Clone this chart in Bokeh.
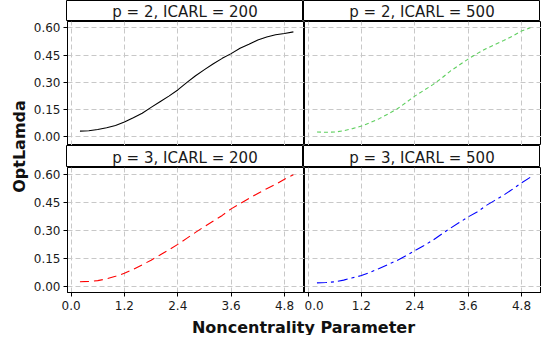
import math
from bokeh.plotting import figure
from bokeh.layouts import row, column
from bokeh.models import Range1d, FixedTicker, NumeralTickFormatter, Label, LinearAxis, Grid
from bokeh.embed import file_html
from bokeh.resources import INLINE

# ---------------- data ----------------
noncentrality = [0.2, 0.4, 0.6, 0.8, 1.0, 1.2, 1.4, 1.6, 1.8, 2.0, 2.2, 2.4, 2.6,
                 2.8, 3.0, 3.2, 3.4, 3.6, 3.8, 4.0, 4.2, 4.4, 4.6, 4.8, 5.0]
opt_p2_icarl200 = [0.031, 0.033, 0.040, 0.050, 0.062, 0.081, 0.105, 0.130, 0.162, 0.193,
                   0.224, 0.258, 0.298, 0.336, 0.370, 0.402, 0.432, 0.458, 0.488, 0.510,
                   0.533, 0.550, 0.562, 0.569, 0.578]
opt_p2_icarl500 = [0.026, 0.025, 0.026, 0.033, 0.045, 0.059, 0.078, 0.100, 0.125, 0.153,
                   0.188, 0.224, 0.255, 0.286, 0.322, 0.362, 0.395, 0.428, 0.458, 0.485,
                   0.508, 0.530, 0.555, 0.583, 0.600]
opt_p3_icarl200 = [0.027, 0.029, 0.033, 0.043, 0.056, 0.072, 0.093, 0.117, 0.142, 0.169,
                   0.197, 0.226, 0.258, 0.290, 0.321, 0.350, 0.380, 0.415, 0.442, 0.470,
                   0.497, 0.522, 0.545, 0.573, 0.596]
opt_p3_icarl500 = [0.021, 0.023, 0.027, 0.036, 0.048, 0.060, 0.078, 0.098, 0.119, 0.140,
                   0.165, 0.192, 0.219, 0.247, 0.280, 0.312, 0.342, 0.372, 0.398, 0.432,
                   0.460, 0.488, 0.520, 0.553, 0.583]
panel_titles = ["p = 2, ICARL = 200", "p = 2, ICARL = 500",
                "p = 3, ICARL = 200", "p = 3, ICARL = 500"]
x_ticks = [0.0, 1.2, 2.4, 3.6, 4.8]
y_ticks = [0.0, 0.15, 0.30, 0.45, 0.60]
x_title = "Noncentrality Parameter"
y_title = "OptLamda"

# ---------------- style / geometry ----------------
FONT = "DejaVu Sans"
AXW = 36      # left axis area
FW = 237      # frame width
HH1, FH1 = 21, 124
HH2, FH2 = 22, 125
XAX = 22
XL = 21
YLW = 30
GRID_COLOR = "#c8c8c8"


def base_fig(**kw):
    f = figure(toolbar_location=None, output_backend="svg", x_axis_type=None,
               y_axis_type=None, min_border=0, **kw)
    f.background_fill_color = "white"
    f.border_fill_color = "white"
    return f


def header(title, left, hh):
    h = base_fig(frame_width=FW, frame_height=hh, min_border_left=AXW if left else 0,
                 x_range=Range1d(0, 1), y_range=Range1d(0, 1))
    h.outline_line_color = "black"
    h.outline_line_width = 1
    h.add_layout(Label(x=0.5, y=0.45, text=title, text_align="center",
                       text_baseline="middle", text_font=FONT,
                       text_font_size="15px", text_color="#1a1a1a"))
    return h


def style_axis(ax):
    ax.major_tick_out = 4
    ax.major_tick_in = 0
    ax.minor_tick_out = 0
    ax.minor_tick_in = 0
    ax.axis_line_color = "black"
    ax.major_tick_line_color = "black"
    ax.major_label_text_font = FONT
    ax.major_label_text_font_size = "12px"
    ax.major_label_text_color = "#1a1a1a"


def panel(vals, color, dash, left, bottom, fh, ymin):
    p = base_fig(frame_width=FW, frame_height=fh,
                 x_range=Range1d(-0.08, 5.25), y_range=Range1d(ymin, 0.635),
                 min_border_left=AXW if left else 0,
                 min_border_bottom=XAX if bottom else 0)
    p.outline_line_color = "black"
    p.outline_line_width = 1
    p.add_layout(Grid(dimension=0, ticker=FixedTicker(ticks=x_ticks),
                      grid_line_color=GRID_COLOR, grid_line_dash="5 3"))
    p.add_layout(Grid(dimension=1, ticker=FixedTicker(ticks=y_ticks),
                      grid_line_color=GRID_COLOR, grid_line_dash="5 3"))
    if left:
        ya = LinearAxis(ticker=FixedTicker(ticks=y_ticks),
                        formatter=NumeralTickFormatter(format="0.00"))
        style_axis(ya)
        ya.major_label_standoff = 3
        p.add_layout(ya, "left")
    if bottom:
        xa = LinearAxis(ticker=FixedTicker(ticks=x_ticks),
                        formatter=NumeralTickFormatter(format="0.0"))
        style_axis(xa)
        xa.major_label_standoff = 4
        p.add_layout(xa, "below")
    p.line(x=noncentrality, y=vals, line_color=color, line_width=1.1, line_dash=dash)
    return p


p11 = panel(opt_p2_icarl200, "black", "solid", True, False, FH1, -0.048)
p12 = panel(opt_p2_icarl500, "#5fcf5f", "4 3", False, False, FH1, -0.048)
p21 = panel(opt_p3_icarl200, "#ff0000", "9 5", True, True, FH2, -0.03)
p22 = panel(opt_p3_icarl500, "#0000ff", "10 4 3 4", False, True, FH2, -0.03)

xl = base_fig(width=AXW + 2 * FW, height=XL,
              x_range=Range1d(0, AXW + 2 * FW), y_range=Range1d(0, XL))
xl.outline_line_color = None
xl.add_layout(Label(x=AXW + FW, y=XL / 2 - 2, text=x_title, text_align="center",
                    text_baseline="middle", text_font=FONT, text_font_size="16px",
                    text_font_style="bold", text_color="#111111"))

TOTAL_H = HH1 + FH1 + HH2 + FH2 + XAX + XL
yl = base_fig(width=YLW, height=TOTAL_H,
              x_range=Range1d(0, YLW), y_range=Range1d(0, TOTAL_H))
yl.outline_line_color = None
yl.add_layout(Label(x=19, y=TOTAL_H - (HH1 + FH1 + HH2 + FH2) / 2, text=y_title,
                    angle=math.pi / 2, text_align="center", text_baseline="middle",
                    text_font=FONT, text_font_size="16px", text_font_style="bold",
                    text_color="#111111"))

grid = column(
    row(header(panel_titles[0], True, HH1), header(panel_titles[1], False, HH1)),
    row(p11, p12),
    row(header(panel_titles[2], True, HH2), header(panel_titles[3], False, HH2)),
    row(p21, p22),
    xl,
)
layout = row(yl, grid)

open("out.html", "w").write(file_html(layout, INLINE))
